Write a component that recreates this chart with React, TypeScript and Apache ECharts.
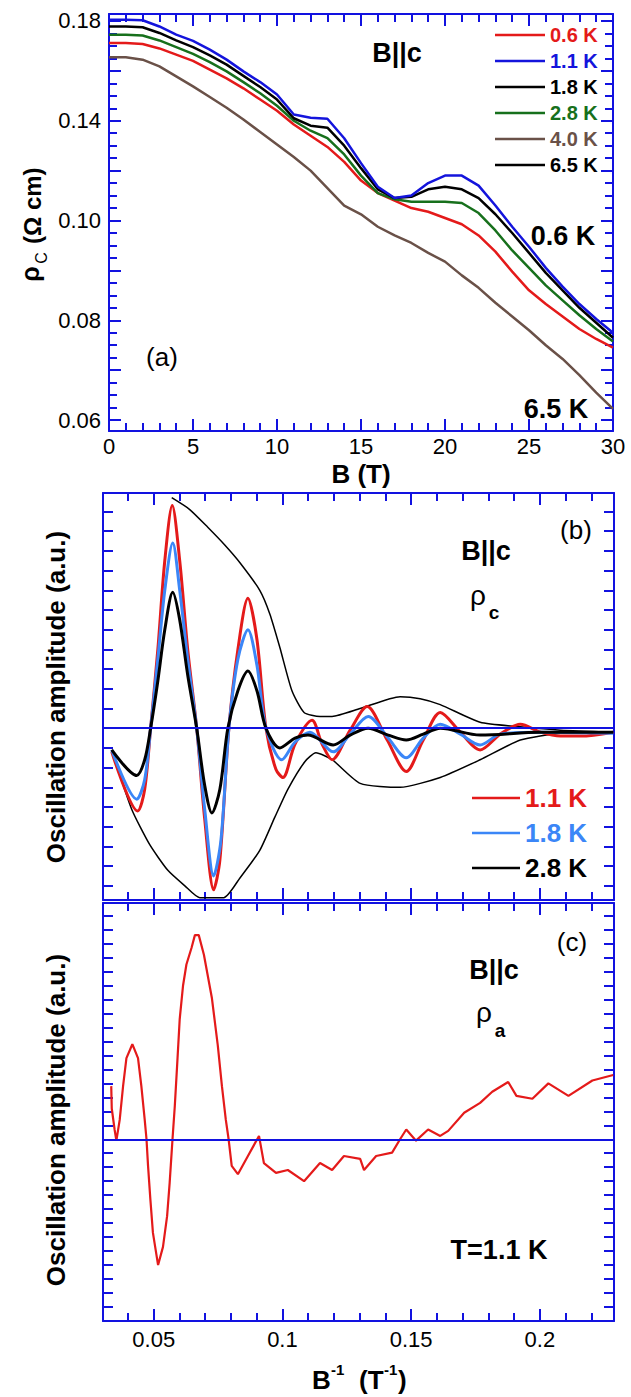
import { useEffect, useRef } from 'react';
import * as echarts from 'echarts';

const FONT = '"Liberation Sans", Arial, Helvetica, sans-serif';
const AXIS = '#1212e0';
const RED = '#e41a1a';
const BLUE = '#1414dc';
const GREEN = '#17701c';
const BROWN = '#6a5148';
const LBLUE = '#3b86f7';
const BLACK = '#000000';

// ---------- Panel (a): rho_c vs B ----------
const aB = [0, 1, 2, 3, 4, 5, 6, 7, 8, 9, 10, 11, 12, 13, 14, 15, 16, 17, 18, 19, 20, 21, 22, 23, 24, 25, 26, 27, 28, 29, 30];
const a06 = [0.1712, 0.1712, 0.1708, 0.169, 0.1665, 0.164, 0.1605, 0.157, 0.153, 0.1485, 0.144, 0.1385, 0.134, 0.1295, 0.1235, 0.116, 0.111, 0.108, 0.105, 0.1035, 0.101, 0.0985, 0.094, 0.0875, 0.0795, 0.072, 0.0665, 0.0615, 0.0565, 0.0525, 0.049];
const a11 = [0.1805, 0.1805, 0.1803, 0.1778, 0.1745, 0.172, 0.1685, 0.1645, 0.1598, 0.1555, 0.1505, 0.1425, 0.1412, 0.1408, 0.133, 0.123, 0.1135, 0.109, 0.11, 0.115, 0.118, 0.118, 0.114, 0.106, 0.0975, 0.0895, 0.081, 0.0735, 0.0665, 0.0605, 0.055];
const a18 = [0.1778, 0.1778, 0.1775, 0.1752, 0.1722, 0.1695, 0.1662, 0.1625, 0.158, 0.1535, 0.1485, 0.141, 0.138, 0.1372, 0.13, 0.121, 0.1125, 0.109, 0.1095, 0.1125, 0.1135, 0.1125, 0.109, 0.1025, 0.095, 0.087, 0.079, 0.072, 0.065, 0.059, 0.053];
const a28 = [0.1745, 0.1745, 0.1742, 0.1722, 0.1695, 0.1668, 0.1635, 0.1598, 0.1555, 0.151, 0.146, 0.14, 0.136, 0.133, 0.1265, 0.118, 0.111, 0.1085, 0.1075, 0.1075, 0.1075, 0.107, 0.103, 0.096, 0.088, 0.081, 0.074, 0.068, 0.062, 0.0565, 0.0515];
const a40 = [0.1655, 0.1655, 0.1645, 0.1618, 0.1578, 0.1538, 0.1495, 0.1452, 0.1405, 0.1355, 0.1305, 0.1255, 0.12, 0.113, 0.106, 0.1025, 0.0975, 0.094, 0.091, 0.087, 0.0835, 0.078, 0.073, 0.067, 0.0615, 0.056, 0.05, 0.0445, 0.038, 0.031, 0.0245];
const aXTicks = [0, 5, 10, 15, 20, 25, 30];
const aYTickVals = [0.02, 0.06, 0.1, 0.14, 0.18];
const aYTickText = ['0.06', '0.08', '0.10', '0.14', '0.18'];

// ---------- Panel (b): oscillation amplitude (rho_c) vs 1/B ----------
const b11X = [0.0337, 0.0438, 0.0465, 0.0488, 0.0516, 0.0543, 0.0572, 0.0601, 0.0632, 0.0667, 0.0698, 0.0733, 0.0757, 0.0792, 0.0827, 0.0866, 0.0901, 0.0936, 0.0975, 0.1002, 0.1049, 0.1115, 0.1154, 0.1193, 0.1263, 0.1329, 0.1407, 0.1481, 0.1547, 0.1613, 0.1691, 0.1768, 0.1846, 0.1924, 0.2002, 0.208, 0.2158, 0.2285];
const b11Y = [-1.2, -4.2, -3.1, 0, 4.0, 8.5, 11.3, 8.5, 4.0, 0, -4.6, -8.2, -6.7, 0, 4.0, 6.6, 4.5, 0, -2.1, -2.5, -0.8, 0.4, -0.8, -1.6, -0.1, 1.1, -0.6, -2.2, -0.6, 0.8, -0.2, -1.1, -0.3, 0.2, -0.2, -0.4, -0.4, -0.2];
const b18X = [0.0337, 0.0434, 0.0465, 0.0488, 0.0516, 0.0543, 0.0574, 0.0601, 0.0632, 0.0667, 0.0698, 0.0733, 0.0761, 0.0792, 0.0827, 0.0866, 0.0901, 0.0936, 0.0998, 0.1049, 0.1107, 0.1197, 0.1263, 0.1333, 0.1411, 0.1481, 0.1547, 0.1613, 0.1691, 0.1768, 0.1846, 0.2002, 0.2285];
const b18Y = [-1.1, -3.6, -2.6, 0, 3.5, 7.0, 9.4, 7.0, 3.5, 0, -4.1, -7.5, -5.7, 0, 3.5, 5.0, 3.2, 0, -1.6, -0.7, -0.2, -1.2, -0.3, 0.6, -0.5, -1.5, -0.5, 0.2, -0.3, -0.85, -0.3, -0.2, -0.25];
const b28X = [0.0337, 0.0434, 0.0465, 0.0488, 0.0516, 0.0543, 0.0574, 0.0601, 0.0632, 0.0667, 0.0698, 0.0726, 0.0757, 0.0788, 0.0827, 0.0866, 0.0901, 0.0936, 0.099, 0.1049, 0.1099, 0.1197, 0.1263, 0.1333, 0.1411, 0.1481, 0.1547, 0.1613, 0.1768, 0.2002, 0.2285];
const b28Y = [-1.1, -2.4, -1.6, 0, 2.4, 5.0, 6.9, 5.5, 2.7, 0, -2.9, -4.3, -3.1, 0, 1.9, 2.9, 1.9, 0, -1.0, -0.5, -0.35, -0.85, -0.35, 0, -0.35, -0.6, -0.3, 0, -0.35, -0.2, -0.2];
const bUpX = [0.057, 0.064, 0.071, 0.0776, 0.0835, 0.0912, 0.0951, 0.099, 0.1037, 0.1084, 0.1146, 0.1193, 0.1302, 0.1457, 0.1535, 0.1613, 0.1768, 0.1924, 0.208, 0.2285];
const bUpY = [11.7, 11.1, 10.2, 9.3, 8.4, 7.0, 5.8, 4.1, 1.9, 0.8, 0.6, 0.6, 1.0, 1.6, 1.5, 1.2, 0.3, 0.07, -0.1, -0.2];
const bLoX = [0.0337, 0.0414, 0.0484, 0.0554, 0.0621, 0.0679, 0.0772, 0.0835, 0.0912, 0.0971, 0.1021, 0.1087, 0.113, 0.1193, 0.1302, 0.1457, 0.1613, 0.1768, 0.1924, 0.208, 0.2285];
const bLoY = [-1.1, -4.1, -5.9, -7.2, -8.0, -8.6, -8.6, -7.6, -6.2, -4.5, -3.1, -1.7, -1.25, -1.6, -2.8, -3.0, -2.5, -1.6, -0.6, -0.25, -0.2];

// ---------- Panel (c): oscillation amplitude (rho_a) vs 1/B ----------
const cX = [0.0335, 0.0337, 0.0348, 0.0355, 0.0368, 0.0381, 0.0394, 0.0417, 0.0439, 0.0452, 0.0465, 0.0472, 0.0478, 0.0487, 0.0497, 0.0517, 0.0536, 0.0552, 0.0562, 0.0573, 0.0582, 0.0591, 0.0601, 0.0614, 0.0627, 0.0647, 0.066, 0.0675, 0.0695, 0.0726, 0.0749, 0.0765, 0.078, 0.0791, 0.0803, 0.0827, 0.0866, 0.0909, 0.0928, 0.0975, 0.1021, 0.1084, 0.1146, 0.1193, 0.1239, 0.1302, 0.1317, 0.1364, 0.1426, 0.1457, 0.1481, 0.1519, 0.1566, 0.1613, 0.1644, 0.1706, 0.1768, 0.1815, 0.1877, 0.1909, 0.1971, 0.2033, 0.2111, 0.2204, 0.2285];
const cY = [3.8, 2.2, 0.7, -0.1, 1.4, 3.8, 5.8, 6.8, 5.8, 3.8, 1.4, 0, -1.9, -4.3, -6.7, -9.0, -7.7, -5.5, -3.1, 0, 2.4, 5.3, 8.6, 11.0, 12.5, 13.7, 14.6, 14.6, 13.2, 10.1, 6.7, 3.8, 1.4, 0, -1.9, -2.5, -1.2, 0.24, -1.7, -2.4, -2.2, -3.0, -1.7, -2.2, -1.2, -1.4, -2.2, -1.2, -0.96, 0, 0.7, -0.1, 0.7, 0.24, 0.6, 1.9, 2.6, 3.4, 4.1, 3.1, 2.9, 4.0, 3.1, 4.2, 4.6];
const bcXTicks = [0.05, 0.1, 0.15, 0.2];
const bcXTickText = ['0.05', '0.1', '0.15', '0.2'];

const range = (a: number, b: number, step: number) => {
  const out: number[] = [];
  for (let v = a; v <= b + step * 1e-6; v += step) out.push(Math.round(v * 1e6) / 1e6);
  return out;
};
const zip = (xs: number[], ys: number[]) => xs.map((x, i) => [x, ys[i]]);
const notIn = (list: number[]) => (v: number) => !list.some((m) => Math.abs(m - v) < 1e-6);

const nearestText = (vals: number[], texts: string[]) => (v: number) => {
  let best = 0;
  for (let i = 1; i < vals.length; i++) if (Math.abs(vals[i] - v) < Math.abs(vals[best] - v)) best = i;
  return texts[best];
};

const GRIDS = [
  { left: 109, top: 14, width: 504, height: 417 },
  { left: 103, top: 493, width: 511, height: 407 },
  { left: 103, top: 903, width: 511, height: 418 },
];
const EXT = [
  { x: [0, 30], y: [0.0156, 0.1828] },
  { x: [0.0303, 0.2288], y: [-8.72, 11.94] },
  { x: [0.0303, 0.2288], y: [-13.0, 16.9] },
];

// four axes per dimension per panel: major ticks (with line, labels) and minor ticks, on both opposite sides
function axisSet(dim: 'x' | 'y', gi: number, major: number[], minor: number[], majorLen: number, minorLen: number, labelVals: number[] | null, fmt: ((v: number) => string) | null, margin: number) {
  const pos = dim === 'x' ? ['bottom', 'bottom', 'top', 'top'] : ['left', 'left', 'right', 'right'];
  const [min, max] = EXT[gi][dim];
  return pos.map((p, k) => {
    const isMajor = k % 2 === 0;
    const ticks = isMajor ? major : minor;
    return {
      type: 'value',
      gridIndex: gi,
      min,
      max,
      position: p,
      splitLine: { show: false },
      axisLine: { show: isMajor, onZero: false, lineStyle: { color: AXIS, width: 2 } },
      axisTick: ticks.length
        ? { show: true, inside: true, length: isMajor ? majorLen : minorLen, customValues: ticks, lineStyle: { color: AXIS, width: 2 } }
        : { show: false },
      axisLabel:
        k === 0 && labelVals
          ? { show: true, customValues: labelVals, formatter: fmt, color: '#000', fontSize: 22, fontFamily: FONT, margin }
          : { show: false },
    };
  });
}

const aYMajor = range(0.02, 0.18, 0.02);
const aYMinor = range(0.02, 0.18, 0.005).filter(notIn(aYMajor));
const aXMinor = range(0, 30, 1).filter(notIn(aXTicks));
const bcXMinor = range(0.04, 0.22, 0.01).filter(notIn(bcXTicks));
const bYTicks = range(-8, 11, 1);
const cYTicks = range(-12, 16, 1);

const xAxes = [
  ...axisSet('x', 0, aXTicks, aXMinor, 12, 8, aXTicks, (v) => String(v), 4),
  ...axisSet('x', 1, bcXTicks, bcXMinor, 12, 8, null, null, 5),
  ...axisSet('x', 2, bcXTicks, bcXMinor, 12, 8, bcXTicks, nearestText(bcXTicks, bcXTickText), 7),
];
const yAxes = [
  ...axisSet('y', 0, aYMajor, aYMinor, 12, 8, aYTickVals, nearestText(aYTickVals, aYTickText), 8),
  ...axisSet('y', 1, bYTicks, [], 10, 6, null, null, 8),
  ...axisSet('y', 2, cYTicks, [], 10, 6, null, null, 8),
];

const zeroLine = {
  silent: true,
  symbol: ['none', 'none'],
  label: { show: false },
  lineStyle: { color: AXIS, width: 2, type: 'solid' },
  data: [{ yAxis: 0 }],
};

const lineSeries = (name: string, data: number[][], color: string, width: number, gi: number, smooth = 0, z = 3) => ({
  type: 'line',
  name,
  data,
  xAxisIndex: gi * 4,
  yAxisIndex: gi * 4,
  showSymbol: false,
  symbol: 'circle',
  symbolSize: 3,
  smooth,
  lineStyle: { color, width },
  itemStyle: { color },
  z,
  silent: true,
});

const t = (text: string, x: number, y: number, size: number, bold = false, align = 'center', fill = '#000') => ({
  type: 'text',
  x,
  y,
  z: 100,
  style: { text, font: `${bold ? 'bold ' : ''}${size}px ${FONT}`, fill, textAlign: align, textVerticalAlign: 'middle' },
});

const option: any = {
  animation: false,
  backgroundColor: '#ffffff',
  grid: GRIDS,
  xAxis: xAxes,
  yAxis: yAxes,
  legend: [
    {
      left: 495,
      top: 25,
      orient: 'vertical',
      padding: 0,
      itemWidth: 50,
      itemHeight: 2.5,
      itemGap: 6,
      icon: 'rect',
      selectedMode: false,
      textStyle: { fontFamily: FONT, fontWeight: 'bold', fontSize: 20, lineHeight: 20 },
      data: [
        { name: '0.6 K', textStyle: { color: RED } },
        { name: '1.1 K', textStyle: { color: BLUE } },
        { name: '1.8 K', textStyle: { color: BLACK } },
        { name: '2.8 K', textStyle: { color: GREEN } },
        { name: '4.0 K', textStyle: { color: BROWN } },
        { name: '6.5 K', textStyle: { color: BLACK } },
      ],
    },
    {
      left: 472,
      top: 785,
      orient: 'vertical',
      padding: 0,
      itemWidth: 48,
      itemHeight: 2.5,
      itemGap: 9,
      icon: 'rect',
      selectedMode: false,
      formatter: (n: string) => n.replace(' (b)', ''),
      textStyle: { fontFamily: FONT, fontWeight: 'bold', fontSize: 26, lineHeight: 25 },
      data: [
        { name: '1.1 K (b)', textStyle: { color: RED } },
        { name: '1.8 K (b)', textStyle: { color: LBLUE } },
        { name: '2.8 K (b)', textStyle: { color: BLACK } },
      ],
    },
  ],
  series: [
    lineSeries('4.0 K', zip(aB, a40), BROWN, 2.5, 0),
    lineSeries('0.6 K', zip(aB, a06), RED, 2.5, 0),
    lineSeries('2.8 K', zip(aB, a28), GREEN, 2.5, 0),
    lineSeries('1.8 K', zip(aB, a18), BLACK, 2.5, 0),
    lineSeries('1.1 K', zip(aB, a11), BLUE, 2.5, 0),
    lineSeries('6.5 K', [], BLACK, 2.5, 0),
    lineSeries('upper envelope', zip(bUpX, bUpY), BLACK, 1.5, 1, 0.2),
    lineSeries('lower envelope', zip(bLoX, bLoY), BLACK, 1.5, 1, 0.2),
    lineSeries('1.1 K (b)', zip(b11X, b11Y), RED, 3, 1, 0.3),
    lineSeries('1.8 K (b)', zip(b18X, b18Y), LBLUE, 3, 1, 0.3),
    { ...lineSeries('2.8 K (b)', zip(b28X, b28Y), BLACK, 3, 1, 0.3), markLine: zeroLine },
    { ...lineSeries('T=1.1 K', zip(cX, cY), RED, 2.2, 2), markLine: zeroLine },
  ],
  graphic: [
    {
      type: 'group',
      x: 32,
      y: 218,
      rotation: Math.PI / 2,
      children: [
        { type: 'text', x: -56, y: -2, style: { text: 'ρ', font: `bold 25px ${FONT}`, fill: '#000', textAlign: 'center', textVerticalAlign: 'middle' } },
        { type: 'text', x: -40, y: 9, style: { text: 'C', font: `16px ${FONT}`, fill: '#000', textAlign: 'center', textVerticalAlign: 'middle' } },
        { type: 'text', x: -26, y: 0, style: { text: '(Ω cm)', font: `bold 24px ${FONT}`, fill: '#000', textAlign: 'left', textVerticalAlign: 'middle' } },
      ],
    },
    {
      type: 'group',
      x: 56,
      y: 697,
      rotation: Math.PI / 2,
      children: [{ type: 'text', x: 0, y: 0, style: { text: 'Oscillation amplitude (a.u.)', font: `bold 26px ${FONT}`, fill: '#000', textAlign: 'center', textVerticalAlign: 'middle' } }],
    },
    {
      type: 'group',
      x: 56,
      y: 1120,
      rotation: Math.PI / 2,
      children: [{ type: 'text', x: 0, y: 0, style: { text: 'Oscillation amplitude (a.u.)', font: `bold 26px ${FONT}`, fill: '#000', textAlign: 'center', textVerticalAlign: 'middle' } }],
    },
    t('B (T)', 361, 474, 26, true),
    t('(a)', 162, 357, 26),
    t('B||c', 397, 53, 27, true),
    t('0.6 K', 563, 236, 27, true),
    t('6.5 K', 556, 409, 27, true),
    t('(b)', 576, 530, 26),
    t('B||c', 486, 551, 27, true),
    t('ρ', 478, 595, 28),
    t('c', 494, 612, 19, true),
    t('(c)', 572, 942, 26),
    t('B||c', 494, 970, 27, true),
    t('ρ', 484, 1012, 28),
    t('a', 500, 1030, 19, true),
    t('T=1.1 K', 499, 1250, 27, true),
    t('B', 312, 1380, 26, true, 'left'),
    t('-1', 331, 1369, 15, true, 'left'),
    t('(T', 359, 1380, 26, true, 'left'),
    t('-1', 384, 1369, 15, true, 'left'),
    t(')', 398, 1380, 26, true, 'left'),
  ],
};

export default function App() {
  const ref = useRef<HTMLDivElement>(null);
  useEffect(() => {
    const chart = echarts.init(ref.current!, null, { renderer: 'svg' });
    chart.setOption(option);
    return () => chart.dispose();
  }, []);
  return <div ref={ref} style={{ position: 'absolute', left: 0, top: 0, width: 631, height: 1397, background: '#fff' }} />;
}
